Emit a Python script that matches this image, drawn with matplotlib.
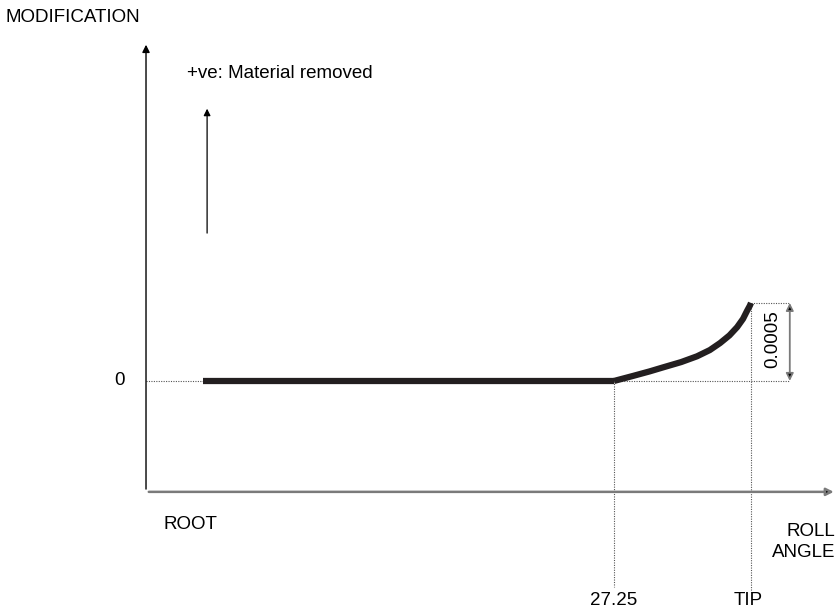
import matplotlib

matplotlib.use("Agg")
import matplotlib.pyplot as plt

plt.rcParams["font.family"] = ["Liberation Sans", "DejaVu Sans"]

# roll angle (deg) and profile modification
root_angle = 0.0
start_angle = 27.25
tip_angle = 36.33
mod_height = 0.0005

flat_x = [root_angle, start_angle]
flat_y = [0.0, 0.0]
curve_x = [27.25, 28.5, 29.6, 30.50, 31.7, 32.75, 33.6, 34.28, 34.9, 35.41, 35.8, 36.07, 36.25, 36.33]
curve_y = [0.0, 0.000032, 0.000061, 0.000087, 0.000121, 0.000158, 0.000198, 0.000243, 0.000292, 0.000345, 0.000398, 0.000450, 0.000482, 0.0005]

x_axis_y = -0.000711
y_axis_x = -3.78
dim_x = 38.9

ink = "#231f20"
grey = "#7a7a7a"

fig = plt.figure(figsize=(8.37, 6.14), dpi=100)
ax = fig.add_axes([0, 0, 1, 1])
ax.set_xlim(-13.46, 42.03)
ax.set_ylim(-0.001494, 0.002442)
ax.axis("off")

# axes drawn as arrows
ax.annotate("", xy=(y_axis_x, 0.002173), xytext=(y_axis_x, x_axis_y),
            arrowprops=dict(arrowstyle="-|>", color="black", lw=1.0, mutation_scale=11))
ax.annotate("", xy=(42.0, x_axis_y), xytext=(y_axis_x, x_axis_y),
            arrowprops=dict(arrowstyle="-|>", color=grey, lw=1.8, mutation_scale=11,
                            fc="black", ec=grey))

# dotted guides
dot = dict(color="#555555", lw=0.8, ls=(0, (1, 1.2)))
ax.plot([y_axis_x, root_angle], [0, 0], **dot)
ax.plot([start_angle, dim_x], [0, 0], **dot)
ax.plot([tip_angle, dim_x], [mod_height, mod_height], **dot)
ax.plot([start_angle, start_angle], [0, -0.001324], **dot)
ax.plot([tip_angle, tip_angle], [mod_height, -0.001356], **dot)

# profile
ax.plot(flat_x, flat_y, color=ink, lw=4.5, solid_capstyle="butt")
ax.plot(curve_x, curve_y, color=ink, lw=4.5, solid_capstyle="butt", solid_joinstyle="round")

# dimension arrow
ax.annotate("", xy=(dim_x, mod_height), xytext=(dim_x, 0),
            arrowprops=dict(arrowstyle="<|-|>", color=grey, lw=1.3, mutation_scale=11,
                            fc="black", ec=grey, shrinkA=0, shrinkB=0))

fs = 13.5
ax.text(dim_x - 1.1, mod_height / 2 + 0.00002, "0.0005", rotation=90, ha="center", va="center", fontsize=fs)

# positive direction hint
ax.annotate("", xy=(0.27, 0.001763), xytext=(0.27, 0.000930),
            arrowprops=dict(arrowstyle="-|>", color="black", lw=0.9, mutation_scale=10))
ax.text(-1.06, 0.001968, "+ve: Material removed", ha="left", va="center", fontsize=fs)

ax.text(-13.1, 0.002327, "MODIFICATION", ha="left", va="center", fontsize=fs)
ax.text(-5.57, 0.0, "0", ha="center", va="center", fontsize=fs)
ax.text(-2.65, -0.000920, "ROOT", ha="left", va="center", fontsize=fs)
ax.text(41.9, -0.001030, "ROLL\nANGLE", ha="right", va="center", fontsize=fs, linespacing=1.3)
ax.text(start_angle, -0.001410, "27.25", ha="center", va="center", fontsize=fs)
ax.text(tip_angle - 0.2, -0.001410, "TIP", ha="center", va="center", fontsize=fs)

fig.savefig("out.png", dpi=100)
